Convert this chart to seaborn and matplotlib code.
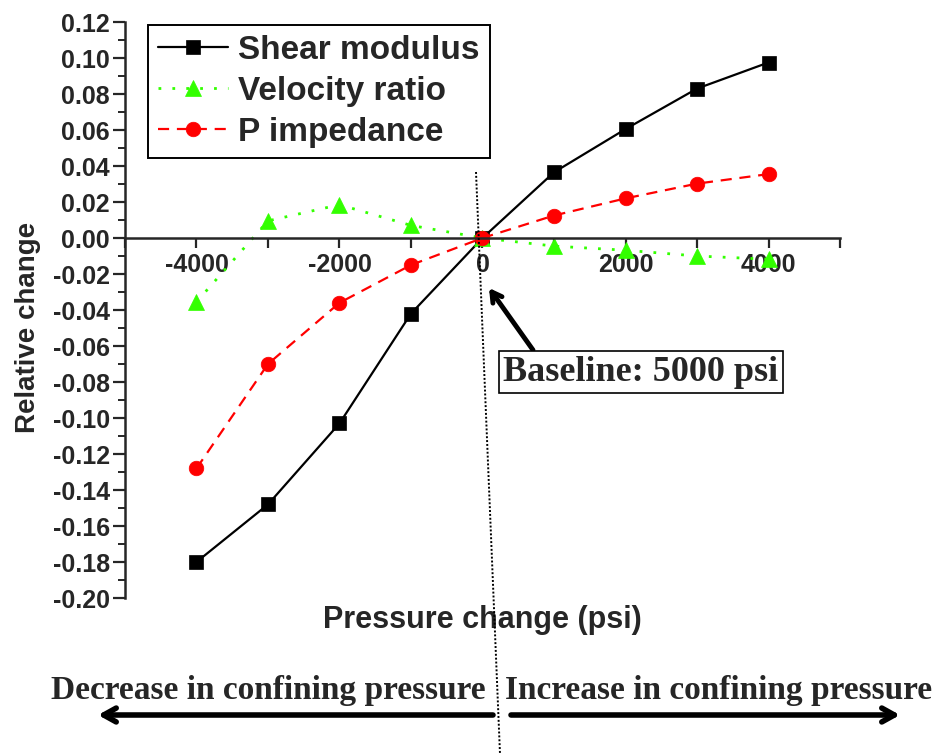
import numpy as np
import pandas as pd
import matplotlib
matplotlib.use("Agg")
import matplotlib.pyplot as plt
import seaborn as sns
from matplotlib.ticker import FixedLocator, FixedFormatter, MultipleLocator
from matplotlib.lines import Line2D

# ---------------- data ----------------
pressure = [-4000, -3000, -2000, -1000, 0, 1000, 2000, 3000, 4000]
shear_modulus = [-0.180, -0.148, -0.103, -0.042, 0.000, 0.0365, 0.0605, 0.0830, 0.0975]
velocity_ratio = [-0.0355, 0.0095, 0.0185, 0.0070, 0.000, -0.0045, -0.0068, -0.0100, -0.0118]
p_impedance = [-0.128, -0.070, -0.036, -0.015, 0.000, 0.0125, 0.0220, 0.0302, 0.0355]
series_names = ["Shear modulus", "Velocity ratio", "P impedance"]

xtick_vals = [-4000, -2000, 0, 2000, 4000]
xtick_labels = ["-4000", "-2000", "0", "2000", "4000"]
ytick_vals = [0.12, 0.10, 0.08, 0.06, 0.04, 0.02, 0.00, -0.02, -0.04, -0.06,
              -0.08, -0.10, -0.12, -0.14, -0.16, -0.18, -0.20]
ytick_labels = ["0.12", "0.10", "0.08", "0.06", "0.04", "0.02", "0.00", "-0.02",
                "-0.04", "-0.06", "-0.08", "-0.10", "-0.12", "-0.14", "-0.16",
                "-0.18", "-0.20"]

x_label = "Pressure change (psi)"
y_label = "Relative change"
baseline_text = "Baseline: 5000 psi"
left_text = "Decrease in confining pressure"
right_text = "Increase in confining pressure"

# ---------------- style ----------------
sns.set_style("ticks")
plt.rcParams["font.family"] = ["Liberation Sans", "DejaVu Sans"]
plt.rcParams["font.weight"] = "bold"
plt.rcParams["axes.unicode_minus"] = False

W, H = 935, 754
fig = plt.figure(figsize=(W / 100, H / 100), dpi=100)
ax = fig.add_axes([125 / W, 1 - 598 / H, (840 - 125) / W, (598 - 22) / H])

styles = {
    "Shear modulus": dict(color="black", marker="s", linestyle="-", lw=1.6, ms=9.5),
    "Velocity ratio": dict(color="#33ff00", marker="^", linestyle=(0, (1, 4)), lw=2.0, ms=11),
    "P impedance": dict(color="#ff0000", marker="o", linestyle=(0, (5, 3.5)), lw=1.6, ms=10.5),
}
values = {"Shear modulus": shear_modulus, "Velocity ratio": velocity_ratio,
          "P impedance": p_impedance}

for name in series_names:
    st = styles[name]
    df = pd.DataFrame({"x": pressure, "y": values[name]})
    sns.lineplot(data=df, x="x", y="y", ax=ax, label=name, color=st["color"],
                 marker=st["marker"], linestyle=st["linestyle"], linewidth=st["lw"],
                 markersize=st["ms"], markeredgecolor=st["color"],
                 markerfacecolor=st["color"], markeredgewidth=0.5)

ax.set_xlim(-5000, 5000)
ax.set_ylim(-0.20, 0.12)

# spines
ax.spines["top"].set_visible(False)
ax.spines["right"].set_visible(False)
ax.spines["bottom"].set_position(("data", 0))
ax.spines["left"].set_linewidth(1.8)
ax.spines["bottom"].set_linewidth(1.8)

ax.xaxis.set_major_locator(FixedLocator(xtick_vals))
ax.xaxis.set_major_formatter(FixedFormatter(xtick_labels))
ax.xaxis.set_minor_locator(MultipleLocator(1000))
ax.yaxis.set_major_locator(FixedLocator(ytick_vals))
ax.yaxis.set_major_formatter(FixedFormatter(ytick_labels))
ax.yaxis.set_minor_locator(MultipleLocator(0.01))

ax.tick_params(axis="x", which="both", direction="out", length=7, width=1.6,
               labelsize=18, pad=4)
ax.tick_params(axis="y", which="major", direction="out", length=9, width=1.6,
               labelsize=18, pad=2)
ax.tick_params(axis="y", which="minor", direction="out", length=5, width=1.4)
for lab in ax.get_xticklabels() + ax.get_yticklabels():
    lab.set_fontweight("bold")

ax.set_xlabel(x_label, fontsize=22, fontweight="bold")
ax.xaxis.set_label_coords(0.5, (598 - 620) / 576)
ax.xaxis.label.set_va("center")
ax.set_ylabel(y_label, fontsize=20, fontweight="bold")
ax.yaxis.set_label_coords((28 - 125) / 715, (598 - 327) / 576)
ax.yaxis.label.set_va("center")

leg = ax.legend(loc="upper left", bbox_to_anchor=((148 - 125) / 715, (598 - 25) / 576),
                fontsize=24, frameon=True, fancybox=False, framealpha=1,
                edgecolor="black", handlelength=2.1, numpoints=1,
                borderpad=0.3, labelspacing=0.3, handletextpad=0.3,
                borderaxespad=0)
leg.get_frame().set_linewidth(1.4)
for t in leg.get_texts():
    t.set_fontweight("bold")

# slanted dotted baseline marker
fig.add_artist(Line2D([476 / W, 500 / W], [1 - 172 / H, 1 - 754 / H],
                      transform=fig.transFigure, color="black", lw=1.4,
                      linestyle=(0, (1, 1))))

# baseline annotation
serif = ["Liberation Serif", "DejaVu Serif"]
fig.text(641 / W, 1 - 372 / H, baseline_text, family=serif, fontsize=26,
         fontweight="bold", ha="center", va="center",
         bbox=dict(boxstyle="square,pad=0.12", fc="white", ec="black", lw=1.2))
ax.annotate("", xy=(489 / W, 1 - 288 / H), xycoords="figure fraction",
            xytext=(533 / W, 1 - 350 / H), textcoords="figure fraction",
            arrowprops=dict(arrowstyle="->,head_length=0.7,head_width=0.4",
                            color="black", lw=3.5, shrinkA=0, shrinkB=0))

# bottom texts and arrows
fig.text(268 / W, 1 - 691 / H, left_text, family=serif, fontsize=24,
         fontweight="bold", ha="center", va="center")
fig.text(719 / W, 1 - 691 / H, right_text, family=serif, fontsize=24,
         fontweight="bold", ha="center", va="center")
ax.annotate("", xy=(98 / W, 1 - 715 / H), xycoords="figure fraction",
            xytext=(493 / W, 1 - 715 / H), textcoords="figure fraction",
            arrowprops=dict(arrowstyle="->,head_length=0.9,head_width=0.5",
                            color="black", lw=4, shrinkA=0, shrinkB=0))
ax.annotate("", xy=(900 / W, 1 - 715 / H), xycoords="figure fraction",
            xytext=(511 / W, 1 - 715 / H), textcoords="figure fraction",
            arrowprops=dict(arrowstyle="->,head_length=0.9,head_width=0.5",
                            color="black", lw=4, shrinkA=0, shrinkB=0))

fig.savefig("out.png", dpi=100)
